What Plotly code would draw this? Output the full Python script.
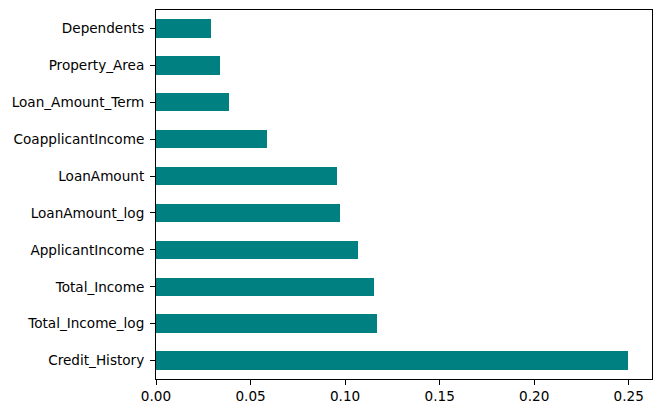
import plotly.graph_objects as go

# feature importances, bottom bar first (as drawn by barh)
features = ['Credit_History', 'Total_Income_log', 'Total_Income', 'ApplicantIncome',
            'LoanAmount_log', 'LoanAmount', 'CoapplicantIncome', 'Loan_Amount_Term',
            'Property_Area', 'Dependents']
importances = [0.2498, 0.1170, 0.1155, 0.1070, 0.0975, 0.0959, 0.0589, 0.0388,
               0.0340, 0.0293]

x_ticks = [0.0, 0.05, 0.10, 0.15, 0.20, 0.25]
x_tick_labels = ['0.00', '0.05', '0.10', '0.15', '0.20', '0.25']

fig = go.Figure()
fig.add_trace(go.Bar(x=importances, y=features, orientation='h',
                     marker=dict(color='#008080', line=dict(width=0)),
                     width=0.5))

axis_style = dict(showline=True, linecolor='black', linewidth=1, mirror=True,
                  ticks='outside', ticklen=5, tickwidth=1, tickcolor='black',
                  showgrid=False, zeroline=False, automargin=False,
                  tickfont=dict(family='DejaVu Sans', size=13.6, color='black'))

fig.update_xaxes(range=[0, max(importances) * 1.05], tickvals=x_ticks,
                 ticktext=x_tick_labels, **axis_style)
fig.update_yaxes(range=[-0.5, len(features) - 0.5], ticklabelstandoff=3,
                 **axis_style)

# page body adds an 8px margin, so the figure is sized to fit inside it
fig.update_layout(width=645, height=397,
                  margin=dict(l=148, r=1, t=2, b=26),
                  plot_bgcolor='white', paper_bgcolor='white',
                  showlegend=False, bargap=0)

fig.write_html("out.html")
